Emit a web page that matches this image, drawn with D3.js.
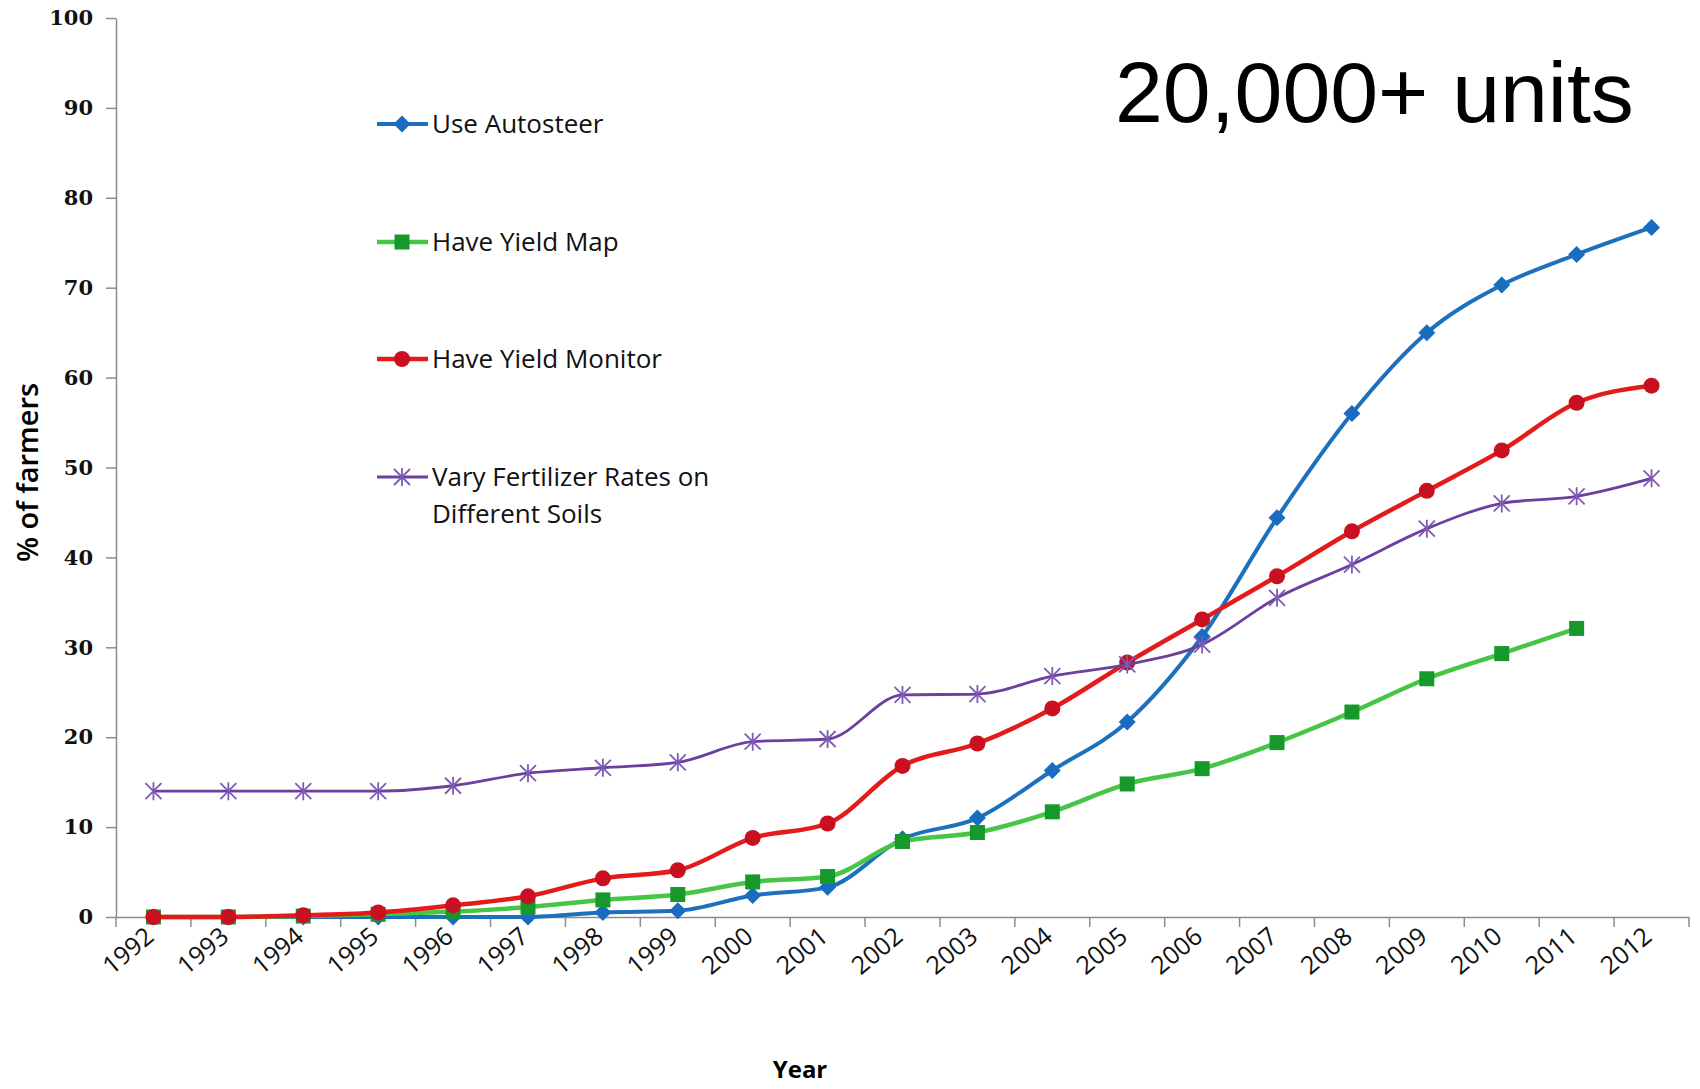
<!DOCTYPE html>
<html>
<head>
<meta charset="utf-8">
<script src="https://cdn.jsdelivr.net/npm/d3@7"></script>
<style>
  body { margin: 0; background: #fff; }
  svg { display: block; }
  .axis path, .axis line { stroke: #8c8c8c; stroke-width: 1.5; }
  .ytick text { font-family: "DejaVu Serif", serif; font-weight: bold; font-size: 21px; fill: #111; }
  .xtick text { font-family: "Open Sans", sans-serif; font-size: 25px; fill: #111; }
</style>
</head>
<body>
<div id="chart"></div>
<script>
const years = ['1992','1993','1994','1995','1996','1997','1998','1999','2000','2001','2002',
  '2003','2004','2005','2006','2007','2008','2009','2010','2011','2012'];

const autosteer = [0, 0, 0, 0, 0, 0, 0.5, 0.7, 2.4, 3.3, 8.7, 11, 16.3, 21.7, 31.2, 44.4, 56, 65, 70.3, 73.7, 76.7];
const yieldMap = [0, 0, 0.1, 0.3, 0.6, 1.1, 1.9, 2.5, 3.9, 4.5, 8.4, 9.4, 11.7, 14.8, 16.5, 19.4, 22.8, 26.5, 29.3, 32.1, null];
const yieldMonitor = [0, 0, 0.2, 0.5, 1.3, 2.3, 4.3, 5.2, 8.8, 10.4, 16.8, 19.3, 23.2, 28.3, 33.1, 37.9, 42.9, 47.4, 51.9, 57.2, 59.1];
const varyFert = [14, 14, 14, 14, 14.6, 16, 16.6, 17.2, 19.5, 19.8, 24.7, 24.8, 26.8, 28.1, 30.3, 35.5, 39.2, 43.2, 46, 46.8, 48.8];

const yTicks = [0, 10, 20, 30, 40, 50, 60, 70, 80, 90, 100];

const series = [
  { name: 'Use Autosteer', values: autosteer, line: '#1c70bd', mark: '#1a6cc0', shape: 'diamond', width: 4 },
  { name: 'Have Yield Map', values: yieldMap, line: '#46c646', mark: '#16982a', shape: 'square', width: 4.5 },
  { name: 'Have Yield Monitor', values: yieldMonitor, line: '#e31b1b', mark: '#c81020', shape: 'circle', width: 4.5 },
  { name: ['Vary Fertilizer Rates on', 'Different Soils'], values: varyFert, line: '#6d3f9e', mark: '#7d5bb5', shape: 'star', width: 2.8 }
];

const width = 1700, height = 1089;
const margin = { left: 116, right: 11, top: 18, bottom: 172 };

const svg = d3.select('#chart').append('svg')
  .attr('width', width)
  .attr('height', height);

const x = d3.scaleBand()
  .domain(years)
  .range([margin.left, width - margin.right]);

const y = d3.scaleLinear()
  .domain([0, 100])
  .range([height - margin.bottom, margin.top]);

// y axis
svg.append('g')
  .attr('class', 'axis ytick')
  .attr('transform', `translate(${margin.left},0)`)
  .call(d3.axisLeft(y).tickValues(yTicks).tickSize(10).tickPadding(13).tickSizeOuter(0));

// x axis: labels at band centres, ticks on band edges
let xAxis = svg.append('g')
  .attr('class', 'axis xtick')
  .attr('transform', `translate(0,${y(0)})`)
  .call(d3.axisBottom(x).tickSize(0).tickPadding(0).tickSizeOuter(0));

xAxis.selectAll('text')
  .attr('text-anchor', 'end')
  .attr('dy', null)
  .attr('transform', 'translate(2,22) rotate(-40)')
  .attr('y', 0)
  .attr('x', 0);

xAxis.selectAll('.edge')
  .data(years.map(d => x(d)).concat([x.range()[1]]))
  .enter().append('line')
  .attr('class', 'edge')
  .attr('x1', d => d).attr('x2', d => d)
  .attr('y1', 0).attr('y2', 10);

// axis titles
svg.append('text')
  .attr('transform', `translate(38,${(y(0) + y(100)) / 2 + 5}) rotate(-90)`)
  .attr('text-anchor', 'middle')
  .style('font-family', '"Open Sans", sans-serif')
  .style('font-weight', 600)
  .style('font-size', '29px')
  .text('% of farmers');

svg.append('text')
  .attr('x', 800)
  .attr('y', 1078)
  .attr('text-anchor', 'middle')
  .style('font-family', '"Open Sans", sans-serif')
  .style('font-weight', 700)
  .style('font-size', '24px')
  .text('Year');

svg.append('text')
  .attr('x', 1115)
  .attr('y', 122)
  .style('font-family', '"Liberation Sans", Arial, sans-serif')
  .style('font-size', '86px')
  .text('20,000+ units');

let cx = d => x(d) + x.bandwidth() / 2;

function drawMarker(g, shape, color) {
  if (shape === 'diamond') {
    g.append('path').attr('d', 'M0,-8.5L8.5,0L0,8.5L-8.5,0Z').attr('fill', color);
  } else if (shape === 'square') {
    g.append('rect').attr('x', -7.5).attr('y', -7.5).attr('width', 15).attr('height', 15).attr('fill', color);
  } else if (shape === 'circle') {
    g.append('circle').attr('r', 8).attr('fill', color);
  } else {
    g.append('path').attr('d', 'M0,-9V9M-8,-8L8,8M-8,8L8,-8')
      .attr('stroke', color).attr('stroke-width', 1.8).attr('fill', 'none');
  }
}

let line = d3.line()
  .defined(d => d.v != null)
  .x(d => cx(d.year))
  .y(d => y(d.v))
  .curve(d3.curveMonotoneX);

series.forEach(s => {
  let pts = years.map((yr, i) => ({ year: yr, v: s.values[i] }));
  svg.append('path')
    .datum(pts)
    .attr('d', line)
    .attr('fill', 'none')
    .attr('stroke', s.line)
    .attr('stroke-width', s.width)
    .attr('stroke-linejoin', 'round');

  pts.filter(d => d.v != null).forEach(d => {
    let g = svg.append('g').attr('transform', `translate(${cx(d.year)},${y(d.v)})`);
    drawMarker(g, s.shape, s.mark);
  });
});

// legend
const legendY = [124, 242, 359, 477];
series.forEach((s, i) => {
  let g = svg.append('g').attr('transform', `translate(0,${legendY[i]})`);
  g.append('line')
    .attr('x1', 377).attr('x2', 428)
    .attr('stroke', s.line).attr('stroke-width', s.width);
  let m = g.append('g').attr('transform', 'translate(402,0)');
  drawMarker(m, s.shape, s.mark);
  let names = Array.isArray(s.name) ? s.name : [s.name];
  let t = g.append('text')
    .attr('x', 432)
    .attr('y', 9)
    .style('font-family', '"Open Sans", sans-serif')
    .style('font-size', '26px')
    .style('fill', '#111');
  names.forEach((n, j) => {
    t.append('tspan').attr('x', 432).attr('dy', j === 0 ? 0 : 37).text(n);
  });
});
</script>
</body>
</html>
